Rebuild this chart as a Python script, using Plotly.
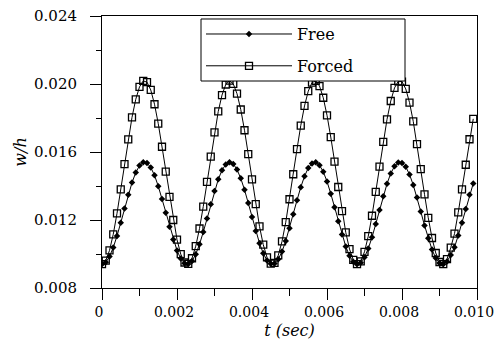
import plotly.graph_objects as go

# time samples (sec)
t = [round(k * 0.0001, 4) for k in range(100)]

forced = [
    0.00940, 0.00961, 0.01021, 0.01116, 0.01239, 0.01380, 0.01529, 0.01674, 0.01804, 0.01910,
    0.01983, 0.02018, 0.02011, 0.01965, 0.01881, 0.01767, 0.01631, 0.01484, 0.01336, 0.01200,
    0.01084, 0.00999, 0.00950, 0.00942, 0.00975, 0.01046, 0.01150, 0.01279, 0.01424, 0.01573,
    0.01715, 0.01839, 0.01935, 0.01997, 0.02020, 0.02001, 0.01943, 0.01850, 0.01728, 0.01588,
    0.01439, 0.01293, 0.01162, 0.01055, 0.00980, 0.00943, 0.00948, 0.00992, 0.01074, 0.01187,
    0.01322, 0.01469, 0.01617, 0.01755, 0.01871, 0.01958, 0.02008, 0.02019, 0.01988, 0.01919,
    0.01816, 0.01688, 0.01543, 0.01394, 0.01252, 0.01127, 0.01029, 0.00965, 0.00940, 0.00957,
    0.01013, 0.01105, 0.01225, 0.01365, 0.01514, 0.01660, 0.01792, 0.01900, 0.01977, 0.02016,
    0.02014, 0.01971, 0.01891, 0.01780, 0.01646, 0.01499, 0.01351, 0.01213, 0.01094, 0.01006,
    0.00953, 0.00941, 0.00970, 0.01037, 0.01120, 0.01245, 0.01380, 0.01525, 0.01675, 0.01795,
]

free = [
    0.00940, 0.00951, 0.00985, 0.01038, 0.01106, 0.01184, 0.01267, 0.01348, 0.01420, 0.01479,
    0.01520, 0.01539, 0.01535, 0.01509, 0.01463, 0.01399, 0.01324, 0.01242, 0.01160, 0.01085,
    0.01020, 0.00973, 0.00946, 0.00941, 0.00959, 0.00999, 0.01057, 0.01129, 0.01209, 0.01292,
    0.01371, 0.01439, 0.01493, 0.01527, 0.01540, 0.01530, 0.01497, 0.01445, 0.01378, 0.01300,
    0.01217, 0.01136, 0.01063, 0.01004, 0.00962, 0.00942, 0.00944, 0.00969, 0.01014, 0.01077,
    0.01152, 0.01234, 0.01316, 0.01393, 0.01457, 0.01506, 0.01533, 0.01539, 0.01522, 0.01484,
    0.01427, 0.01355, 0.01275, 0.01193, 0.01114, 0.01044, 0.00989, 0.00954, 0.00940, 0.00949,
    0.00981, 0.01032, 0.01098, 0.01176, 0.01259, 0.01340, 0.01413, 0.01474, 0.01516, 0.01538,
    0.01536, 0.01513, 0.01468, 0.01406, 0.01332, 0.01250, 0.01168, 0.01092, 0.01026, 0.00976,
    0.00947, 0.00940, 0.00956, 0.00994, 0.01040, 0.01109, 0.01184, 0.01265, 0.01348, 0.01415,
]

x_ticks = [0, 0.002, 0.004, 0.006, 0.008, 0.010]
x_labels = ["0", "0.002", "0.004", "0.006", "0.008", "0.010"]
y_ticks = [0.008, 0.012, 0.016, 0.020, 0.024]
y_labels = ["0.008", "0.012", "0.016", "0.020", "0.024"]

FONT = "DejaVu Serif"

fig = go.Figure()
fig.add_trace(go.Scatter(
    x=t, y=free, name="Free", mode="lines+markers", legendgroup="a",
    line=dict(color="black", width=1),
    marker=dict(symbol="diamond", size=5, color="black"),
))
fig.add_trace(go.Scatter(
    x=t, y=forced, name="Forced", mode="lines+markers", legendgroup="b",
    line=dict(color="black", width=1),
    marker=dict(symbol="square-open", size=7, color="black", line=dict(width=1.3, color="black")),
))

axis_common = dict(
    showline=True, linecolor="black", linewidth=1, mirror=True,
    showgrid=False, zeroline=False, automargin=False,
    ticks="outside", tickcolor="black", tickwidth=1,
    ticklabeloverflow="allow",
)

fig.update_xaxes(
    range=[0, 0.010], tickvals=x_ticks, ticktext=x_labels, ticklen=11,
    ticklabelshift=-3,
    tickfont=dict(family=FONT, size=14, color="black"),
    minor=dict(dtick=0.001, ticks="outside", ticklen=7, tickcolor="black", tickwidth=1, showgrid=False),
    title=dict(text="<i>t (sec)</i>", font=dict(family=FONT, size=16, color="black"), standoff=6),
    **axis_common,
)
fig.update_yaxes(
    range=[0.008, 0.024], tickvals=y_ticks, ticktext=y_labels, ticklen=11,
    ticklabelstandoff=10,
    tickfont=dict(family=FONT, size=15, color="black"),
    minor=dict(dtick=0.002, ticks="outside", ticklen=5, tickcolor="black", tickwidth=1, showgrid=False),
    title=dict(text="<i>w/h</i>", font=dict(family=FONT, size=16, color="black"), standoff=3),
    **axis_common,
)

# legend frame drawn as a white box behind the (transparent) legend
fig.add_shape(
    type="rect", xref="paper", yref="paper",
    x0=0.264, x1=0.808, y0=0.761, y1=0.989,
    fillcolor="white", line=dict(color="black", width=1), layer="above",
)

fig.update_layout(
    width=494, height=348,
    margin=dict(l=102, r=17, t=16, b=60, autoexpand=False),
    paper_bgcolor="white", plot_bgcolor="white",
    showlegend=True,
    legend=dict(
        x=0.264, y=0.996, xanchor="left", yanchor="top",
        bgcolor="rgba(0,0,0,0)", borderwidth=0,
        font=dict(family=FONT, size=16, color="black"),
        itemwidth=86, tracegroupgap=8, traceorder="grouped",
    ),
)

# remove the default page margin so the figure fills the window exactly
fig.write_html(
    "out.html",
    config={"displayModeBar": False},
    post_script="document.body.style.margin='0px';",
)
